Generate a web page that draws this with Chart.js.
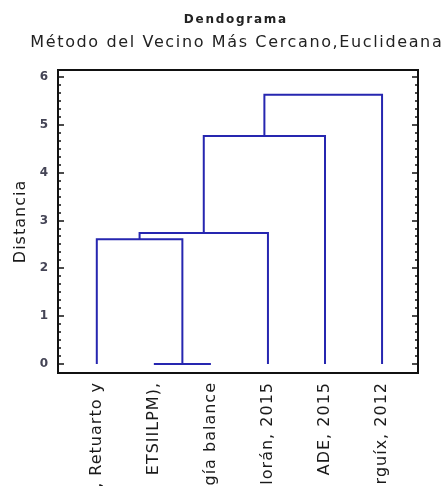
<!DOCTYPE html>
<html>
<head>
<meta charset="utf-8">
<script src="https://cdn.jsdelivr.net/npm/chart.js@4.4.1/dist/chart.umd.min.js"></script>
<style>
  html, body { margin: 0; padding: 0; background: #fff; }
  #wrap { width: 446px; height: 486px; position: relative; }
</style>
</head>
<body>
<div id="wrap"><canvas id="chart"></canvas></div>
<script>
const leafLabels = [", Retuarto y", "ETSIILPM),", "gía balance", "lorán, 2015", "ADE, 2015", "rguíx, 2012"];
const leafPos = [1, 2, 3, 4, 5, 6];

// node ids 0-5 are the leaves, every merge adds a new node (6, 7, ...)
const mergeLeft = [1, 0, 7, 8, 9];
const mergeRight = [2, 6, 3, 4, 5];
const mergeHeight = [0, 2.61, 2.74, 4.77, 5.63];

const yTicks = [0, 1, 2, 3, 4, 5, 6];

const titleText = "Dendograma";
const subtitleText = "Método del Vecino Más Cercano,Euclideana";
const lineColor = "#2626b0";
const fontFamily = "'DejaVu Sans', sans-serif";

function buildLinks() {
  let nodeX = leafPos.slice();
  let nodeH = leafPos.map(() => 0);
  let sets = [];

  mergeHeight.forEach((h, i) => {
    let a = mergeLeft[i];
    let b = mergeRight[i];
    sets.push({
      data: [
        { x: nodeX[a], y: nodeH[a] },
        { x: nodeX[a], y: h },
        { x: nodeX[b], y: h },
        { x: nodeX[b], y: nodeH[b] },
      ],
      showLine: true,
      borderColor: lineColor,
      borderWidth: 2,
      pointRadius: 0,
      tension: 0,
      fill: false,
    });
    nodeX.push((nodeX[a] + nodeX[b]) / 2);
    nodeH.push(h);
  });

  return sets;
}

function drawSpaced(ctx, text, cx, cy, font, width) {
  ctx.font = font;
  ctx.letterSpacing = "0px";
  let w = ctx.measureText(text).width;
  let sp = Math.max((width - w) / text.length, 0);
  ctx.letterSpacing = sp + "px";
  ctx.textAlign = "center";
  ctx.textBaseline = "middle";
  ctx.fillText(text, cx + sp / 2, cy);
}

const framePlugin = {
  id: "frame",
  beforeDraw(chart) {
    chart.ctx.letterSpacing = "1px";
  },
  afterDraw(chart) {
    const ctx = chart.ctx;
    const { left, top, right, bottom } = chart.chartArea;
    const y = chart.scales.y;

    ctx.save();
    ctx.letterSpacing = "0px";

    // minor / major ticks inside the frame, left and right
    ctx.strokeStyle = "#111";
    ctx.lineWidth = 1.5;
    ctx.beginPath();
    yTicks.forEach((t) => {
      for (let k = 0; k < 6; k++) {
        let v = t + k / 6;
        if (v > y.max) break;
        let py = Math.round(y.getPixelForValue(v));
        let len = k === 0 ? 6 : 3;
        ctx.moveTo(left, py);
        ctx.lineTo(left + len, py);
        ctx.moveTo(right, py);
        ctx.lineTo(right - len, py);
      }
    });
    ctx.stroke();

    ctx.lineWidth = 2;
    ctx.strokeRect(left, top, right - left, bottom - top);

    ctx.fillStyle = "#222";
    drawSpaced(ctx, titleText, 235, 20, "bold 12px " + fontFamily, 104);
    drawSpaced(ctx, subtitleText, 236, 43, "16px " + fontFamily, 413);

    ctx.restore();
    ctx.letterSpacing = "0px";
  },
};

new Chart(document.querySelector("#chart"), {
  type: "scatter",
  data: {
    datasets: buildLinks(),
  },
  options: {
    responsive: true,
    maintainAspectRatio: false,
    animation: false,
    layout: {
      padding: { top: 70, right: 28, left: 0, bottom: 0 },
    },
    plugins: {
      legend: { display: false },
      tooltip: { enabled: false },
    },
    scales: {
      x: {
        type: "linear",
        min: 0.32,
        max: 6.63,
        afterBuildTicks: (scale) => {
          scale.ticks = leafPos.map((v) => ({ value: v }));
        },
        afterFit: (scale) => {
          scale.height = 113;
        },
        ticks: {
          autoSkip: false,
          minRotation: 90,
          maxRotation: 90,
          padding: 9,
          color: "#1a1a1a",
          font: { family: fontFamily, size: 16 },
          callback: (value) => leafLabels[leafPos.indexOf(value)],
        },
        grid: { display: false, drawTicks: false },
        border: { display: false },
      },
      y: {
        min: -0.19,
        max: 6.15,
        afterBuildTicks: (scale) => {
          scale.ticks = yTicks.map((v) => ({ value: v }));
        },
        afterFit: (scale) => {
          scale.width = 58;
        },
        title: {
          display: true,
          text: "Distancia",
          color: "#1a1a1a",
          font: { family: fontFamily, size: 16 },
          padding: { top: 11, bottom: 0 },
        },
        ticks: {
          padding: 9,
          color: "#445",
          font: { family: fontFamily, size: 12, weight: "bold" },
        },
        grid: { display: false, drawTicks: false },
        border: { display: false },
      },
    },
  },
  plugins: [framePlugin],
});
</script>
</body>
</html>
